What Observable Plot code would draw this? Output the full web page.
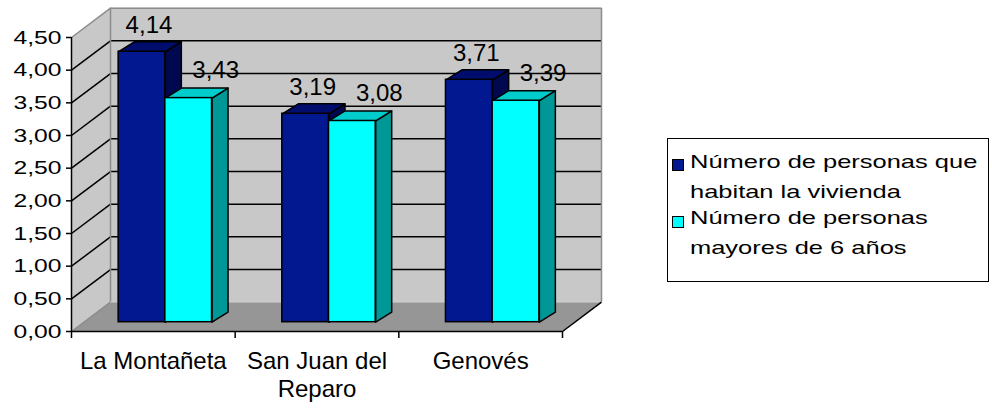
<!DOCTYPE html>
<html><head><meta charset="utf-8">
<script src="https://cdn.jsdelivr.net/npm/d3@7"></script>
<script src="https://cdn.jsdelivr.net/npm/@observablehq/plot@0.6"></script>
<style>
html,body{margin:0;padding:0;background:#fff;}
#wrap{position:relative;width:992px;height:410px;font-family:"Liberation Sans",Arial,sans-serif;overflow:hidden;}
#chart svg{display:block;}
#legend{position:absolute;left:667px;top:138px;width:322px;height:144px;border:1px solid #000;box-sizing:border-box;background:#fff;}
.sw{position:absolute;left:4px;width:12px;height:12px;border:1px solid #000;box-sizing:border-box;}
.lt{position:absolute;left:22px;font-size:19px;line-height:30px;white-space:pre;transform:scaleX(1.34);transform-origin:0 0;color:#000;}
</style></head>
<body><div id="wrap"><div id="chart"></div><div id="legend"></div></div>
<script>
// ---- data ----
const categories = ["La Montañeta", "San Juan del\nReparo", "Genovés"];
const habitan = [4.14, 3.19, 3.71];
const mayores = [3.43, 3.08, 3.39];
const seriesNames = ["Número de personas que\nhabitan la vivienda", "Número de personas\nmayores de 6 años"];
const yTicks = [0, 0.5, 1, 1.5, 2, 2.5, 3, 3.5, 4, 4.5];

const fmt = v => v.toFixed(2).replace(".", ",");

// ---- layout ----
const W = 992, H = 410, mL = 71, mR = 430, mT = 37, mB = 79;
const xMax = categories.length, yMax = yTicks[yTicks.length - 1];
const kx = xMax / (W - mL - mR), ky = yMax / (H - mT - mB);
const px = (dx, dy) => [dx * kx, -dy * ky];
const WALL = [39, -29.3], FRONT = [12, -9.3], DEPTH = [16, -10];
const [wx, wy] = px(...WALL);
const [bx, by] = px(...DEPTH);
const bw = 46.7 * kx;

const colors = {
  dark: {front: "#021890", top: "#000d6c", side: "#000850"},
  cyan: {front: "#00ffff", top: "#00cccc", side: "#009896"}
};
const wallFill = "#c8c8c8", floorFill = "#969696", edge = "#8c8c8c";

const darkBars = categories.map((c, i) => ({i, x1: i + 0.5 - bw, x2: i + 0.5, v: habitan[i]}));
const cyanBars = categories.map((c, i) => ({i, x1: i + 0.5, x2: i + 0.5 + bw, v: mayores[i]}));
const pts = (id, arr) => arr.map(([x, y]) => ({id, x, y}));
const topFace = b => pts(b.i, [[b.x1, b.v], [b.x2, b.v], [b.x2 + bx, b.v + by], [b.x1 + bx, b.v + by], [b.x1, b.v]]);
const sideFace = b => pts(b.i, [[b.x2, 0], [b.x2, b.v], [b.x2 + bx, b.v + by], [b.x2 + bx, by], [b.x2, 0]]);

const sideWall = pts(0, [[0, 0], [0, yMax], [wx, yMax + wy], [wx, wy], [0, 0]]);
const floor = pts(0, [[0, 0], [xMax, 0], [xMax + wx, wy], [wx, wy], [0, 0]]);
const inner = yTicks.filter(v => v > 0 && v < yMax);

const barMarks = (list, c) => [
  Plot.line(list.flatMap(sideFace), {x: "x", y: "y", z: "id", fill: c.side, stroke: "#000", strokeWidth: 1.5, dx: FRONT[0], dy: FRONT[1]}),
  Plot.line(list.flatMap(topFace), {x: "x", y: "y", z: "id", fill: c.top, stroke: "#000", strokeWidth: 1.5, dx: FRONT[0], dy: FRONT[1]}),
  Plot.rect(list, {x1: "x1", x2: "x2", y1: 0, y2: "v", fill: c.front, stroke: "#000", strokeWidth: 1.5, dx: FRONT[0], dy: FRONT[1]})
];

const chart = Plot.plot({
  width: W, height: H,
  marginLeft: mL, marginRight: mR, marginTop: mT, marginBottom: mB,
  x: {domain: [0, xMax], axis: null},
  y: {domain: [0, yMax], axis: null},
  style: {fontFamily: "'Liberation Sans', Arial, sans-serif", color: "#000", background: "#fff", overflow: "visible"},
  marks: [
    // walls and floor
    Plot.line(sideWall, {x: "x", y: "y", fill: wallFill, stroke: "none"}),
    Plot.rect([0], {x1: 0, x2: xMax, y1: 0, y2: yMax, dx: WALL[0], dy: WALL[1], fill: wallFill}),
    Plot.line(floor, {x: "x", y: "y", fill: floorFill, stroke: "none"}),
    // gridlines
    Plot.ruleY(inner, {x1: 0, x2: xMax, dx: WALL[0], dy: WALL[1], stroke: "#000", strokeWidth: 1.5}),
    Plot.link(inner, {x1: 0, y1: d => d, x2: wx, y2: d => d + wy, stroke: "#000", strokeWidth: 1.5}),
    // wall edges
    Plot.ruleY([yMax], {x1: 0, x2: xMax, dx: WALL[0], dy: WALL[1], stroke: edge, strokeWidth: 1.5}),
    Plot.ruleX([0, xMax], {y1: 0, y2: yMax, dx: WALL[0], dy: WALL[1], stroke: edge, strokeWidth: 1.5}),
    Plot.link([yMax, 0], {x1: 0, y1: d => d, x2: wx, y2: d => d + wy, stroke: edge, strokeWidth: 1.5}),
    Plot.ruleY([0], {x1: 0, x2: xMax, dx: WALL[0], dy: WALL[1], stroke: "#b4b4b4", strokeWidth: 1}),
    Plot.link([0], {x1: xMax, y1: 0, x2: xMax + wx, y2: wy, stroke: "#000", strokeWidth: 1.5}),
    // bars
    ...barMarks(darkBars, colors.dark),
    ...barMarks(cyanBars, colors.cyan),
    // axes
    Plot.ruleX([0], {y1: 0, y2: yMax, stroke: "#000", strokeWidth: 1.5}),
    Plot.ruleY(yTicks, {x1: -5 * kx, x2: 0, stroke: "#000", strokeWidth: 1.5}),
    Plot.ruleY([0], {x1: 0, x2: xMax, stroke: "#000", strokeWidth: 1.5}),
    Plot.ruleX(d3.range(xMax + 1), {y1: 0, y2: -7 * ky, stroke: "#000", strokeWidth: 1.5}),
    Plot.text(yTicks, {x: 0, y: d => d, text: fmt, textAnchor: "end", dx: -10, fontSize: 19, ariaLabel: "ytick-label", className: "stretch"}),
    Plot.text(categories, {x: (d, i) => i + 0.5, y: 0, text: d => d, dy: 17.5, lineAnchor: "top", lineHeight: 1.17, fontSize: 24}),
    // value labels
    Plot.text(habitan, {x: (d, i) => i + 0.5 - bw / 2, y: d => d, text: fmt, dx: FRONT[0] + 7, dy: FRONT[1] - 19, lineAnchor: "bottom", fontSize: 24}),
    Plot.text(mayores, {x: (d, i) => i + 0.5 + bw / 2, y: d => d, text: fmt, dx: FRONT[0] + 27, dy: FRONT[1] - 20, lineAnchor: "bottom", fontSize: 24})
  ]
});
document.getElementById("chart").appendChild(chart);

// horizontally stretch the tick labels (as in the reference rendering)
chart.querySelectorAll('[aria-label="ytick-label"] text, .stretch text').forEach(t => {
  if (t.dataset.st) return;
  t.dataset.st = 1;
  let tr = t.getAttribute("transform") || "";
  const ax = t.getAttribute("x");
  if (ax && !/em$/.test(ax)) { tr += ` translate(${ax},0)`; t.removeAttribute("x"); }
  t.setAttribute("transform", tr + " scale(1.3,1)");
});

// legend
const legend = document.getElementById("legend");
const legendCols = [colors.dark.front, colors.cyan.front];
const swTop = [20.3, 77], txTop = [7.7, 64.4];
seriesNames.forEach((name, k) => {
  const sw = document.createElement("div");
  sw.className = "sw"; sw.style.top = swTop[k] + "px"; sw.style.background = legendCols[k];
  legend.appendChild(sw);
  const tx = document.createElement("div");
  tx.className = "lt"; tx.style.top = txTop[k] + "px"; tx.textContent = name;
  legend.appendChild(tx);
});
</script></body></html>
